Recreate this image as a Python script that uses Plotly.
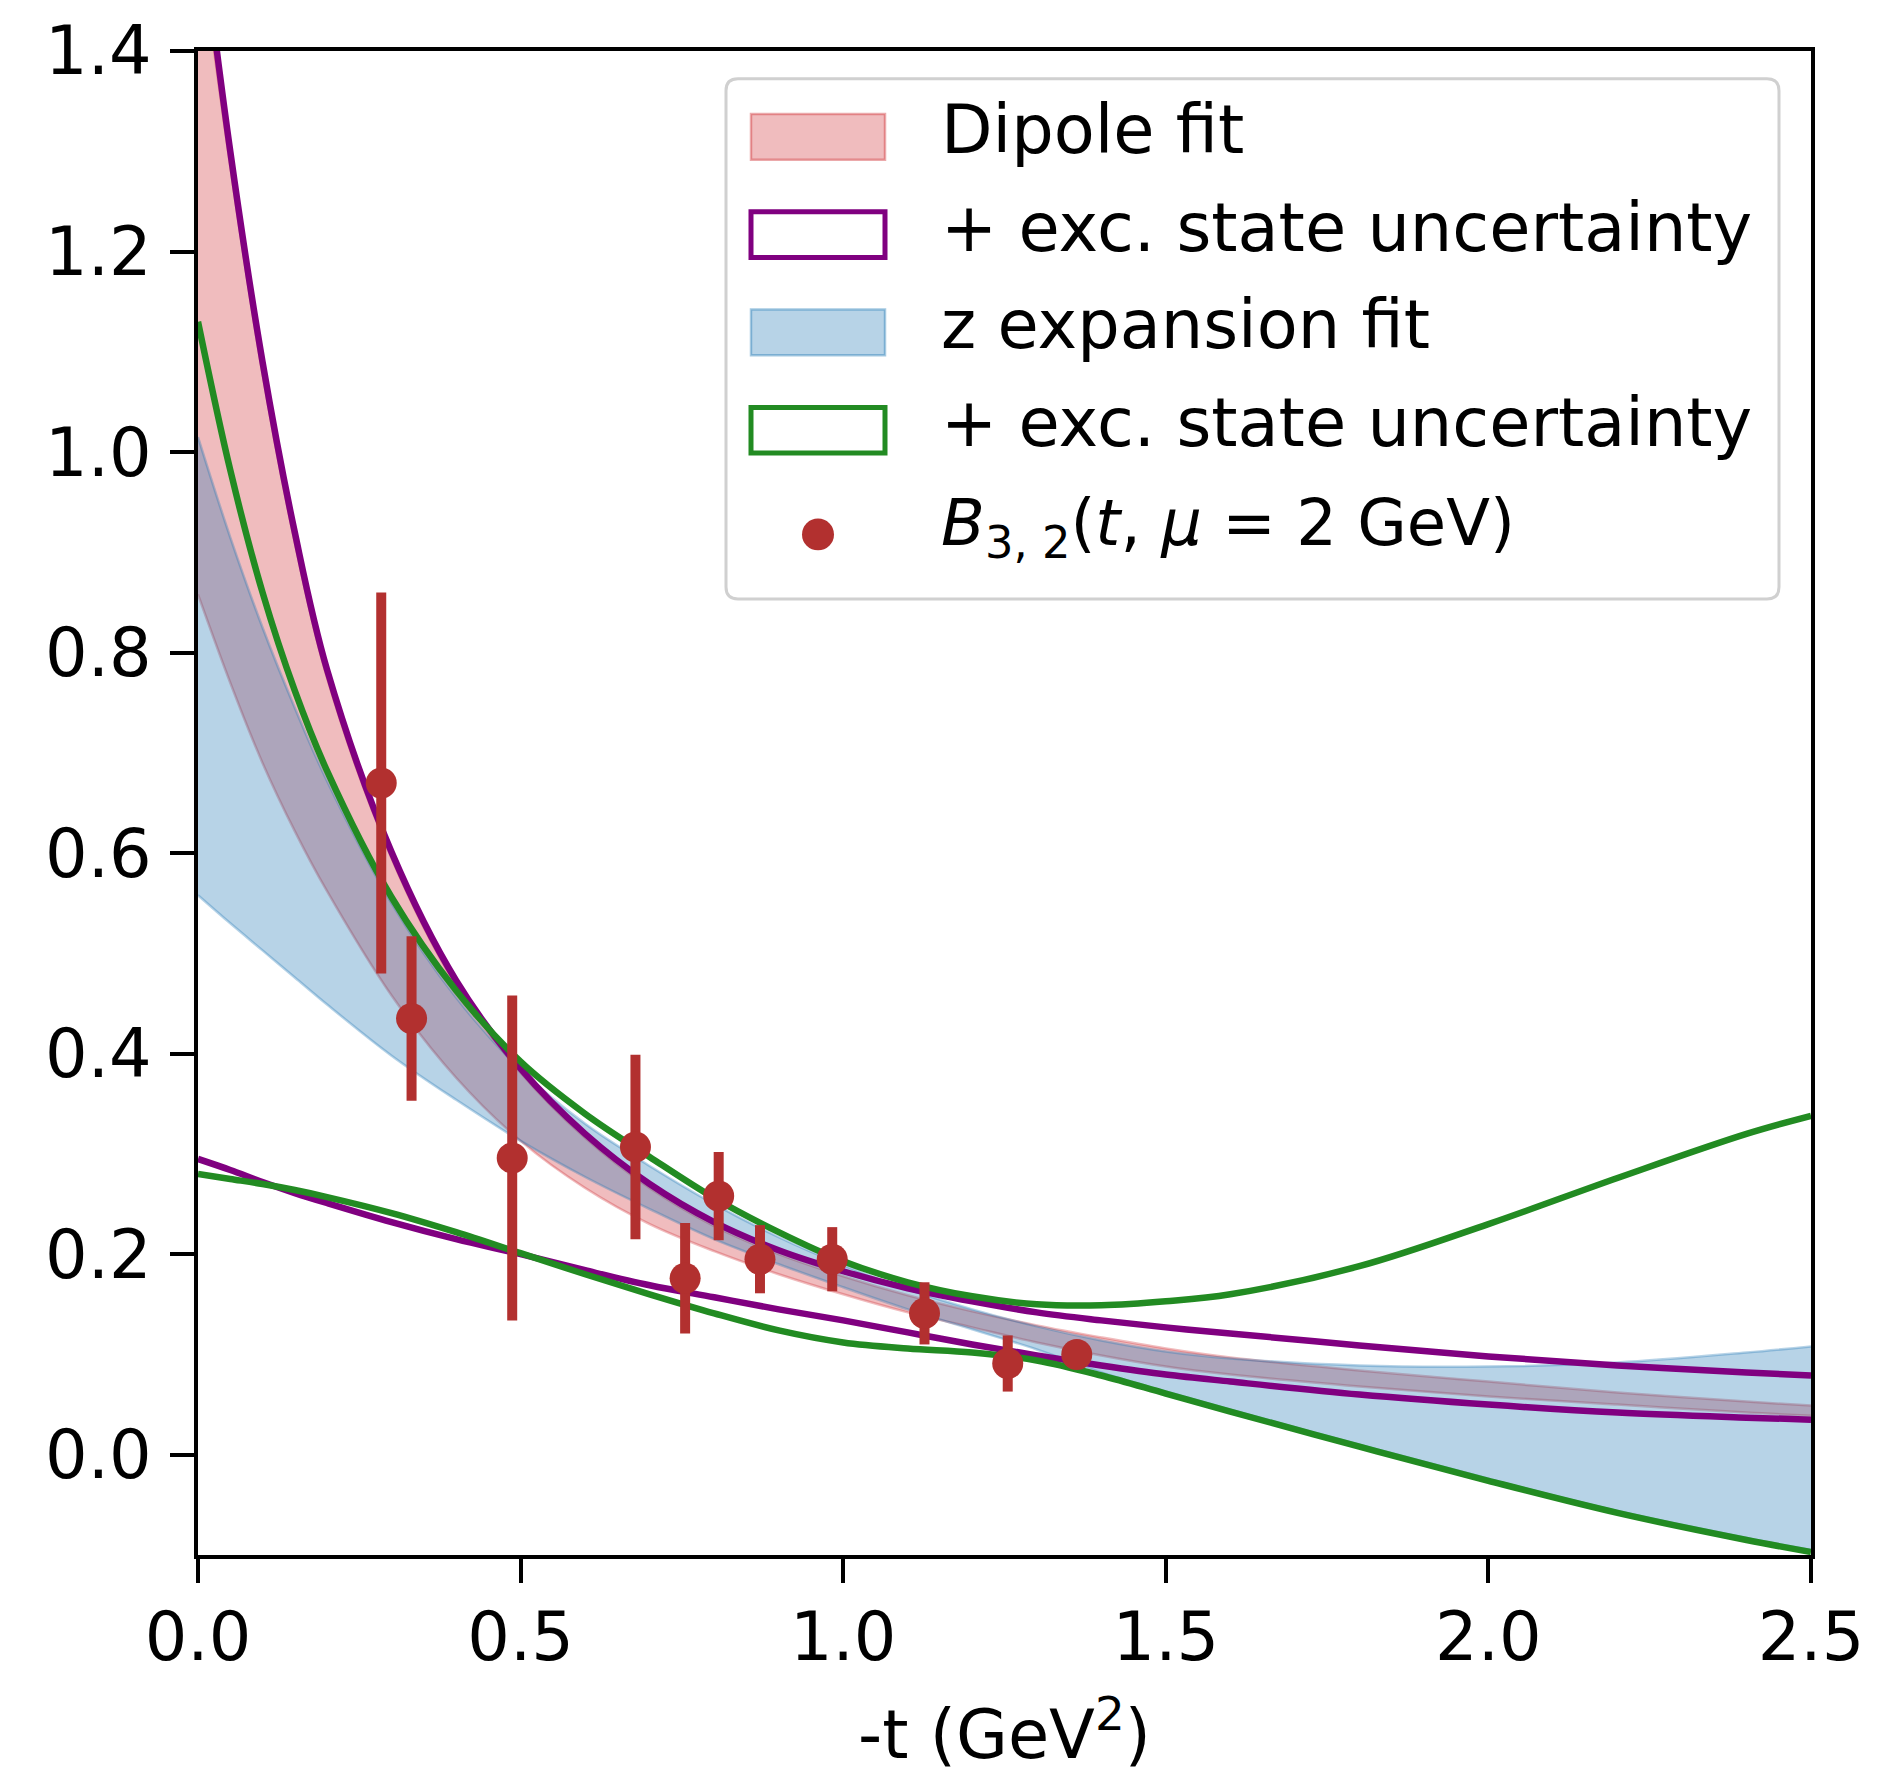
import plotly.graph_objects as go

# -t grid (GeV^2) on which the fit bands are tabulated
t_grid = [0.0, 0.05, 0.1, 0.15, 0.2, 0.3, 0.4, 0.5, 0.6, 0.7, 0.8, 0.9,
          1.0, 1.1, 1.2, 1.3, 1.4, 1.5, 1.6, 1.8, 2.0, 2.2, 2.4, 2.5]

# Dipole fit band
dipole_hi = [1.52, 1.285, 1.078, 0.910, 0.775, 0.595, 0.468, 0.381, 0.316, 0.266, 0.228, 0.200,
             0.178, 0.159, 0.143, 0.129, 0.117, 0.106, 0.097, 0.084, 0.073, 0.062, 0.053, 0.049]
dipole_lo = [0.858, 0.770, 0.690, 0.622, 0.562, 0.458, 0.376, 0.313, 0.266, 0.230, 0.203, 0.180,
             0.160, 0.142, 0.127, 0.112, 0.099, 0.088, 0.080, 0.068, 0.058, 0.050, 0.042, 0.039]
# Dipole fit + excited-state uncertainty (outline)
dipole_exc_hi = [1.55, 1.30, 1.09, 0.920, 0.783, 0.601, 0.473, 0.385, 0.320, 0.270, 0.232, 0.204,
                 0.183, 0.166, 0.153, 0.142, 0.134, 0.127, 0.121, 0.109, 0.098, 0.089, 0.082, 0.079]
dipole_exc_lo = [0.295, 0.284, 0.272, 0.261, 0.251, 0.232, 0.215, 0.200, 0.184, 0.169, 0.157, 0.145,
                 0.134, 0.122, 0.110, 0.099, 0.089, 0.080, 0.073, 0.060, 0.050, 0.042, 0.037, 0.035]

# z expansion fit band
zexp_hi = [1.015, 0.915, 0.825, 0.745, 0.672, 0.550, 0.456, 0.384, 0.330, 0.288, 0.250, 0.217,
           0.189, 0.165, 0.145, 0.128, 0.114, 0.103, 0.096, 0.089, 0.088, 0.092, 0.102, 0.108]
zexp_lo = [0.558, 0.530, 0.503, 0.476, 0.449, 0.398, 0.354, 0.313, 0.277, 0.245, 0.215, 0.190,
           0.167, 0.145, 0.125, 0.105, 0.082, 0.063, 0.045, 0.010, -0.024, -0.056, -0.083, -0.095]
# z expansion fit + excited-state uncertainty (outline)
zexp_exc_hi = [1.13, 0.982, 0.860, 0.762, 0.682, 0.556, 0.463, 0.392, 0.340, 0.297, 0.256, 0.222,
               0.193, 0.172, 0.158, 0.150, 0.149, 0.153, 0.160, 0.188, 0.230, 0.276, 0.320, 0.338]
zexp_exc_lo = [0.280, 0.275, 0.270, 0.264, 0.257, 0.241, 0.222, 0.201, 0.180, 0.160, 0.141, 0.124,
               0.112, 0.106, 0.102, 0.094, 0.079, 0.061, 0.043, 0.008, -0.026, -0.058, -0.085, -0.097]

# Lattice data points B_{3,2}(t, mu = 2 GeV)
t_data = [0.284, 0.331, 0.487, 0.678, 0.755, 0.807, 0.871, 0.983, 1.126, 1.255, 1.362]
b_data = [0.670, 0.435, 0.296, 0.307, 0.176, 0.258, 0.195, 0.195, 0.141, 0.091, 0.100]
b_err = [0.190, 0.082, 0.162, 0.092, 0.055, 0.044, 0.034, 0.032, 0.031, 0.028, 0.010]

x_ticks = [0.0, 0.5, 1.0, 1.5, 2.0, 2.5]
y_ticks = [0.0, 0.2, 0.4, 0.6, 0.8, 1.0, 1.2, 1.4]

legend_labels = ["Dipole fit", "+ exc. state uncertainty", "z expansion fit",
                 "+ exc. state uncertainty",
                 "<i>B</i><sub>3, 2</sub>(<i>t</i>, <i>μ</i> = 2 GeV)"]

PINK = "rgba(205,40,45,0.31)"
BLUE = "rgba(31,119,180,0.32)"
PURPLE = "#800080"
GREEN = "#228b22"
RED = "#b2302f"
FONT = "DejaVu Sans"
FS = 67

W, H = 1895, 1774
L, R, T, B = 198, 84, 42, 217
PW, PH = W - L - R, H - T - B

fig = go.Figure()

# Dipole band
fig.add_trace(go.Scatter(x=t_grid, y=dipole_lo, mode="lines", line=dict(color=PINK, width=2.5, shape="spline"),
                         showlegend=False, hoverinfo="skip"))
fig.add_trace(go.Scatter(x=t_grid, y=dipole_hi, mode="lines", fill="tonexty", fillcolor=PINK,
                         line=dict(color=PINK, width=2.5, shape="spline"), showlegend=False, hoverinfo="skip"))
# z expansion band
fig.add_trace(go.Scatter(x=t_grid, y=zexp_lo, mode="lines", line=dict(color=BLUE, width=2.5, shape="spline"),
                         showlegend=False, hoverinfo="skip"))
fig.add_trace(go.Scatter(x=t_grid, y=zexp_hi, mode="lines", fill="tonexty", fillcolor=BLUE,
                         line=dict(color=BLUE, width=2.5, shape="spline"), showlegend=False, hoverinfo="skip"))

# Excited-state uncertainty outlines
for ys, col in [(dipole_exc_hi, PURPLE), (dipole_exc_lo, PURPLE),
                (zexp_exc_hi, GREEN), (zexp_exc_lo, GREEN)]:
    fig.add_trace(go.Scatter(x=t_grid, y=ys, mode="lines", line=dict(color=col, width=6.5, shape="spline"),
                             showlegend=False, hoverinfo="skip"))

# Data points
fig.add_trace(go.Scatter(x=t_data, y=b_data, mode="markers",
                         marker=dict(color=RED, size=31, line=dict(width=0)),
                         error_y=dict(type="data", array=b_err, visible=True, color=RED, thickness=10, width=0),
                         showlegend=False))


def px_x(X):
    return (X - L) / PW


def px_y(Y):
    return (H - B - Y) / PH


# Legend frame (rounded box)
x0, x1 = px_x(726), px_x(1779)
yt, yb = px_y(70), px_y(594)
rx, ry = 12 / PW, 12 / PH
frame = (f"M {x0+rx},{yt} L {x1-rx},{yt} Q {x1},{yt} {x1},{yt-ry} L {x1},{yb+ry} "
         f"Q {x1},{yb} {x1-rx},{yb} L {x0+rx},{yb} Q {x0},{yb} {x0},{yb+ry} "
         f"L {x0},{yt-ry} Q {x0},{yt} {x0+rx},{yt} Z")
shapes = [dict(type="path", path=frame, xref="paper", yref="paper",
               fillcolor="rgba(255,255,255,0.8)", line=dict(color="#d0d0d0", width=3), layer="above")]

rows = [128.5, 227.0, 325.5, 424.0, 529.0]
patch_styles = [
    dict(fillcolor=PINK, line=dict(color="rgba(205,40,45,0.4)", width=2.5)),
    dict(fillcolor="white", line=dict(color=PURPLE, width=5)),
    dict(fillcolor=BLUE, line=dict(color="rgba(31,119,180,0.4)", width=2.5)),
    dict(fillcolor="white", line=dict(color=GREEN, width=5)),
]
for yc, st in zip(rows[:4], patch_styles):
    shapes.append(dict(type="rect", xref="paper", yref="paper",
                       x0=px_x(751), x1=px_x(885), y0=px_y(yc + 23), y1=px_y(yc - 23),
                       layer="above", **st))
shapes.append(dict(type="circle", xref="paper", yref="paper",
                   x0=px_x(818 - 16), x1=px_x(818 + 16), y0=px_y(rows[4] + 16), y1=px_y(rows[4] - 16),
                   fillcolor=RED, line=dict(width=0), layer="above"))

annotations = []
for i, (yc, lab) in enumerate(zip(rows, legend_labels)):
    size = FS if i < 4 else 64
    annotations.append(dict(text=lab, xref="paper", yref="paper", x=px_x(939), y=px_y(yc - 7),
                            xanchor="left", yanchor="middle", showarrow=False,
                            font=dict(family=FONT, size=size, color="black")))

axis_common = dict(showgrid=False, zeroline=False, ticks="outside", ticklen=24, tickwidth=4,
                   tickcolor="black", linecolor="black", linewidth=4, mirror=True,
                   tickfont=dict(family=FONT, size=FS, color="black"), tickformat=".1f")

fig.update_layout(
    width=W, height=H,
    margin=dict(l=L, r=R, t=T, b=B, pad=0),
    plot_bgcolor="white", paper_bgcolor="white",
    font=dict(family=FONT, size=FS, color="black"),
    xaxis=dict(range=[0, 2.5], tickvals=x_ticks, ticklabelstandoff=-3,
               title=dict(text="-t (GeV<sup>2</sup>)", font=dict(family=FONT, size=FS), standoff=39),
               **axis_common),
    yaxis=dict(range=[-0.1, 1.4], tickvals=y_ticks, ticklabelstandoff=5, **axis_common),
    shapes=shapes,
    annotations=annotations,
    showlegend=False,
)

fig.write_html("out.html")
